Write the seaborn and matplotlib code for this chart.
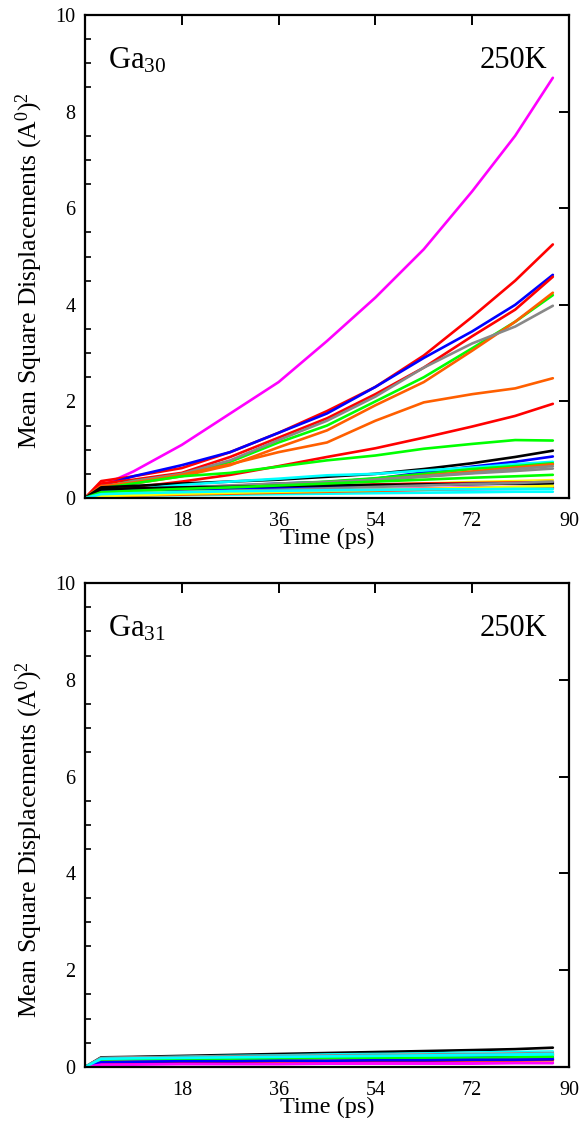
import numpy as np
import pandas as pd
import matplotlib
matplotlib.use("Agg")
import matplotlib.pyplot as plt
import seaborn as sns
from matplotlib.ticker import MultipleLocator

sns.set_style("white")
plt.rcParams['font.family'] = ['Liberation Serif', 'DejaVu Serif']
plt.rcParams['mathtext.fontset'] = 'custom'
plt.rcParams['mathtext.rm'] = 'Liberation Serif'
plt.rcParams['mathtext.it'] = 'Liberation Serif:italic'
plt.rcParams['text.color'] = 'black'
plt.rcParams['axes.labelcolor'] = 'black'
plt.rcParams['xtick.color'] = 'black'
plt.rcParams['ytick.color'] = 'black'

# time grid (ps)
time = [0, 3, 9, 18, 27, 36, 45, 54, 63, 72, 80, 87]

# Ga30 : MSD per atom (A^2)
ga30_colors = ['#ff00ff', '#ff0000', '#0000ff', '#ff0000', '#00ff00', '#ff5f00', '#888888',
               '#ff5f00', '#ff0000', '#00ff00', '#000000', '#0000ff', '#00ffff', '#00ff00',
               '#ff5f00', '#888888', '#888888', '#ffff00', '#ffff00', '#ff0000', '#0000ff',
               '#ff00ff', '#ff00ff', '#00ffff', '#ff5f00', '#000000', '#00ff00', '#888888',
               '#ffff00', '#00ffff']
ga30_msd = [
    [0, 0.25, 0.55, 1.10, 1.75, 2.40, 3.25, 4.15, 5.15, 6.35, 7.50, 8.70],
    [0, 0.35, 0.45, 0.62, 0.95, 1.35, 1.80, 2.30, 2.95, 3.75, 4.50, 5.25],
    [0, 0.25, 0.45, 0.68, 0.95, 1.35, 1.75, 2.30, 2.90, 3.45, 4.00, 4.62],
    [0, 0.30, 0.38, 0.52, 0.85, 1.25, 1.65, 2.15, 2.70, 3.35, 3.90, 4.58],
    [0, 0.22, 0.35, 0.48, 0.75, 1.15, 1.50, 2.00, 2.50, 3.10, 3.65, 4.20],
    [0, 0.20, 0.30, 0.45, 0.68, 1.05, 1.40, 1.92, 2.40, 3.05, 3.65, 4.25],
    [0, 0.22, 0.35, 0.50, 0.78, 1.20, 1.60, 2.10, 2.70, 3.20, 3.55, 3.98],
    [0, 0.25, 0.32, 0.48, 0.70, 0.95, 1.15, 1.60, 1.98, 2.15, 2.27, 2.48],
    [0, 0.15, 0.22, 0.34, 0.48, 0.66, 0.85, 1.03, 1.25, 1.48, 1.70, 1.95],
    [0, 0.20, 0.30, 0.45, 0.52, 0.65, 0.78, 0.88, 1.02, 1.12, 1.20, 1.19],
    [0, 0.22, 0.25, 0.30, 0.34, 0.38, 0.44, 0.50, 0.60, 0.72, 0.85, 0.98],
    [0, 0.15, 0.18, 0.22, 0.25, 0.30, 0.33, 0.40, 0.53, 0.65, 0.75, 0.86],
    [0, 0.12, 0.18, 0.27, 0.34, 0.40, 0.47, 0.50, 0.57, 0.63, 0.70, 0.75],
    [0, 0.10, 0.14, 0.20, 0.24, 0.29, 0.34, 0.41, 0.50, 0.60, 0.66, 0.72],
    [0, 0.08, 0.12, 0.17, 0.21, 0.25, 0.30, 0.37, 0.46, 0.55, 0.63, 0.70],
    [0, 0.12, 0.16, 0.22, 0.26, 0.30, 0.33, 0.37, 0.44, 0.51, 0.56, 0.61],
    [0, 0.10, 0.13, 0.18, 0.22, 0.27, 0.32, 0.38, 0.45, 0.52, 0.60, 0.66],
    [0, 0.08, 0.11, 0.15, 0.18, 0.21, 0.24, 0.27, 0.30, 0.33, 0.35, 0.37],
    [0, 0.06, 0.09, 0.12, 0.15, 0.18, 0.21, 0.24, 0.27, 0.30, 0.32, 0.33],
    [0, 0.15, 0.17, 0.20, 0.22, 0.24, 0.26, 0.28, 0.30, 0.31, 0.32, 0.33],
    [0, 0.14, 0.16, 0.18, 0.20, 0.21, 0.23, 0.25, 0.27, 0.29, 0.30, 0.31],
    [0, 0.05, 0.07, 0.10, 0.12, 0.14, 0.16, 0.18, 0.20, 0.22, 0.23, 0.24],
    [0, 0.04, 0.06, 0.08, 0.10, 0.12, 0.14, 0.15, 0.17, 0.18, 0.19, 0.20],
    [0, 0.03, 0.05, 0.06, 0.07, 0.08, 0.09, 0.10, 0.11, 0.12, 0.13, 0.13],
    [0, 0.03, 0.05, 0.07, 0.09, 0.11, 0.13, 0.15, 0.17, 0.19, 0.21, 0.22],
    [0, 0.18, 0.20, 0.22, 0.23, 0.25, 0.26, 0.27, 0.28, 0.29, 0.30, 0.30],
    [0, 0.12, 0.15, 0.19, 0.22, 0.26, 0.30, 0.34, 0.38, 0.42, 0.45, 0.48],
    [0, 0.06, 0.08, 0.11, 0.14, 0.17, 0.20, 0.23, 0.26, 0.29, 0.31, 0.34],
    [0, 0.04, 0.06, 0.09, 0.11, 0.13, 0.15, 0.17, 0.19, 0.21, 0.23, 0.25],
    [0, 0.08, 0.10, 0.12, 0.14, 0.15, 0.16, 0.17, 0.18, 0.18, 0.19, 0.19],
]

# Ga31 : MSD per atom (A^2)
ga31_colors = ['#000000', '#00ffff', '#ffffff', '#ff0000', '#888888', '#ff5f00', '#00ff00',
               '#00ffff', '#0000ff', '#0000ff', '#8a2be2', '#ff00ff', '#ff00ff', '#00ff00',
               '#ffff00', '#888888', '#ff0000', '#0000ff', '#ff00ff', '#00ffff']
ga31_msd = [
    [0, 0.20, 0.21, 0.23, 0.25, 0.27, 0.29, 0.31, 0.33, 0.35, 0.37, 0.40],
    [0, 0.18, 0.19, 0.21, 0.23, 0.24, 0.26, 0.27, 0.28, 0.30, 0.31, 0.32],
    [0, 0.17, 0.18, 0.20, 0.21, 0.22, 0.23, 0.24, 0.26, 0.27, 0.28, 0.29],
    [0, 0.17, 0.18, 0.19, 0.20, 0.21, 0.22, 0.23, 0.24, 0.25, 0.26, 0.27],
    [0, 0.18, 0.19, 0.20, 0.21, 0.22, 0.22, 0.23, 0.24, 0.25, 0.25, 0.26],
    [0, 0.16, 0.17, 0.18, 0.19, 0.20, 0.21, 0.22, 0.23, 0.24, 0.24, 0.25],
    [0, 0.15, 0.16, 0.17, 0.18, 0.19, 0.20, 0.20, 0.21, 0.22, 0.23, 0.24],
    [0, 0.16, 0.17, 0.18, 0.19, 0.20, 0.21, 0.21, 0.22, 0.23, 0.24, 0.24],
    [0, 0.13, 0.14, 0.15, 0.16, 0.17, 0.17, 0.18, 0.18, 0.19, 0.20, 0.20],
    [0, 0.12, 0.13, 0.14, 0.14, 0.15, 0.15, 0.16, 0.16, 0.17, 0.17, 0.18],
    [0, 0.11, 0.12, 0.12, 0.13, 0.13, 0.14, 0.14, 0.15, 0.15, 0.15, 0.16],
    [0, 0.08, 0.09, 0.10, 0.10, 0.11, 0.11, 0.12, 0.12, 0.13, 0.13, 0.13],
    [0, 0.06, 0.07, 0.07, 0.08, 0.08, 0.08, 0.09, 0.09, 0.09, 0.10, 0.10],
    [0, 0.14, 0.15, 0.16, 0.17, 0.17, 0.18, 0.18, 0.19, 0.19, 0.20, 0.21],
    [0, 0.10, 0.11, 0.11, 0.12, 0.12, 0.13, 0.13, 0.13, 0.14, 0.14, 0.14],
    [0, 0.19, 0.20, 0.21, 0.22, 0.23, 0.24, 0.25, 0.26, 0.27, 0.28, 0.29],
    [0, 0.09, 0.10, 0.11, 0.11, 0.12, 0.12, 0.13, 0.13, 0.14, 0.14, 0.15],
    [0, 0.10, 0.11, 0.12, 0.12, 0.13, 0.13, 0.14, 0.14, 0.15, 0.15, 0.16],
    [0, 0.05, 0.05, 0.06, 0.06, 0.06, 0.07, 0.07, 0.07, 0.07, 0.08, 0.08],
    [0, 0.17, 0.18, 0.19, 0.20, 0.21, 0.22, 0.23, 0.24, 0.25, 0.26, 0.27],
]


def to_long(msd):
    rows = []
    for i, s in enumerate(msd):
        for t, v in zip(time, s):
            rows.append({'atom': i, 'Time': t, 'MSD': v})
    return pd.DataFrame(rows)


fig = plt.figure(figsize=(5.81, 11.27), dpi=100)
ax1 = fig.add_axes([0.1463, 0.5581, 0.833, 0.4286])
ax2 = fig.add_axes([0.1463, 0.0532, 0.833, 0.4295])

panels = [(ax1, ga30_msd, ga30_colors, 'Ga$_{\\mathrm{30}}$'),
          (ax2, ga31_msd, ga31_colors, 'Ga$_{\\mathrm{31}}$')]

for ax, msd, cols, name in panels:
    df = to_long(msd)
    pal = {i: c for i, c in enumerate(cols)}
    sns.lineplot(data=df, x='Time', y='MSD', hue='atom', palette=pal,
                 legend=False, lw=1.9, ax=ax, estimator=None, sort=False)
    ax.set_xlim(0, 90)
    ax.set_ylim(0, 10)
    ax.set_xticks([18, 36, 54, 72, 90])
    ax.set_yticks([0, 2, 4, 6, 8, 10])
    ax.yaxis.set_minor_locator(MultipleLocator(0.5))
    ax.tick_params(which='major', direction='in', length=7, width=1.4,
                   top=True, right=True, labelsize=14.5, pad=7)
    ax.tick_params(axis='x', which='major', pad=10)
    ax.tick_params(which='minor', direction='in', length=4, width=1.2,
                   left=True, right=False)
    for sp in ax.spines.values():
        sp.set_linewidth(1.6)
        sp.set_color('black')
    ax.set_xlabel('Time (ps)', fontsize=17.5, labelpad=-2)
    ax.set_ylabel('Mean Square Displacements (A$^0$)$^2$', fontsize=18.5)
    ax.yaxis.set_label_coords(-0.083, 0.47)
    ax.text(0.047, 0.905, name, transform=ax.transAxes, fontsize=22, va='center', ha='left')
    ax.text(0.955, 0.905, '250K', transform=ax.transAxes, fontsize=22, va='center', ha='right')

fig.savefig('out.png', dpi=100)
